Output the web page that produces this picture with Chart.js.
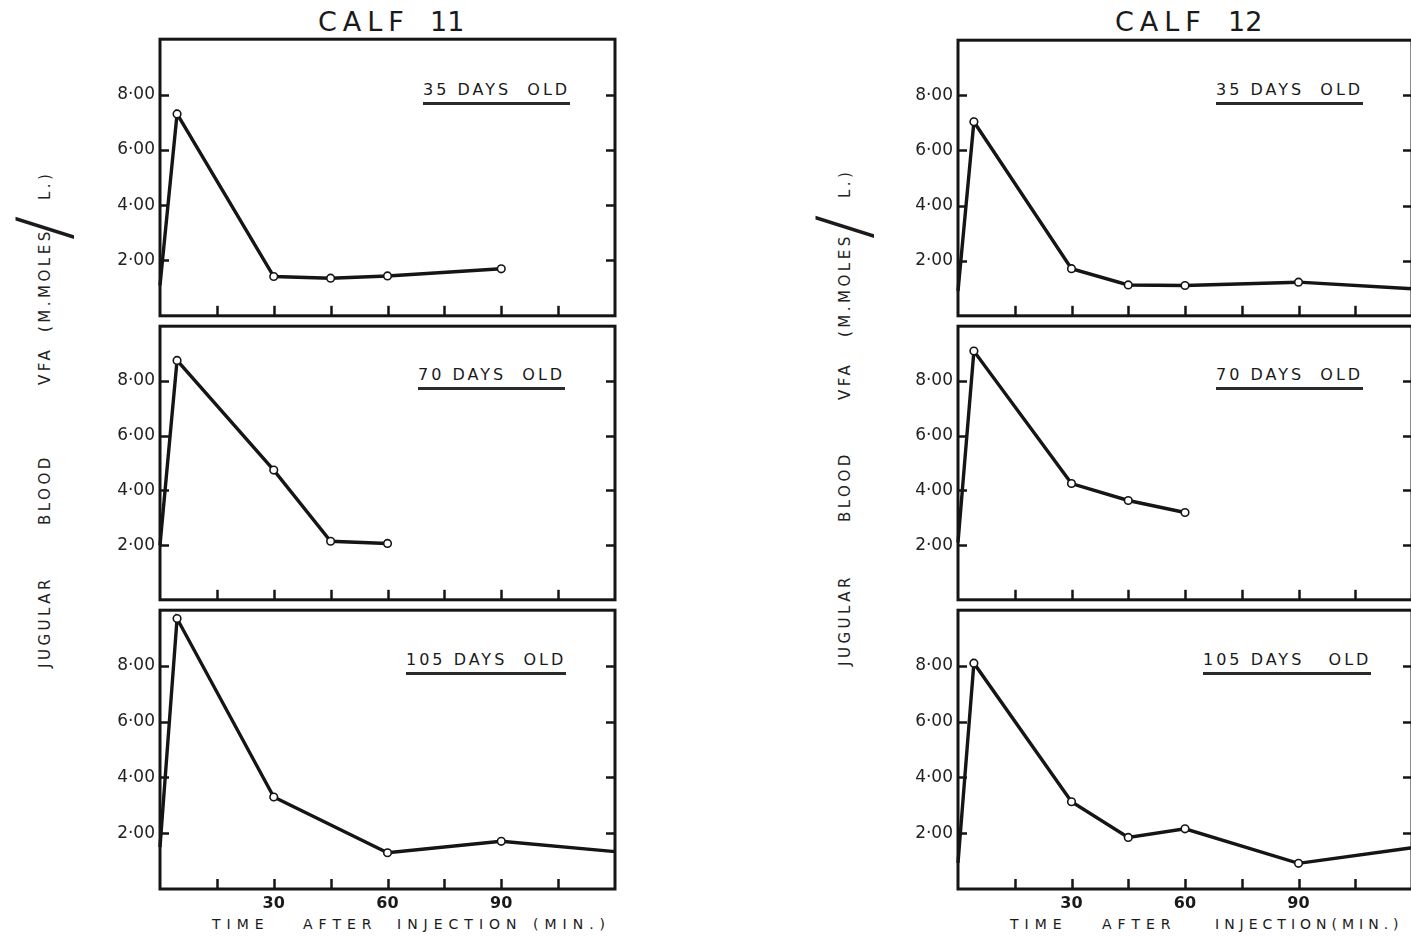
<!DOCTYPE html>
<html>
<head>
<meta charset="utf-8">
<script src="https://cdn.jsdelivr.net/npm/chart.js@4.4.0/dist/chart.umd.min.js"></script>
<style>
html,body{margin:0;padding:0;background:#fff;overflow:hidden;width:1411px;height:940px;}
body{position:relative;font-family:"DejaVu Sans",sans-serif;color:#1a1a1a;}
canvas{position:absolute;}
.t{position:absolute;white-space:pre;line-height:1;}
.title{font-size:27px;letter-spacing:6px;top:8px;}
.num{font-size:27px;letter-spacing:0;top:8px;}
.age{font-size:16px;letter-spacing:3px;border-bottom:3px solid #2a2a2a;padding-bottom:4px;}
.xt{font-size:14px;letter-spacing:6px;top:917px;}
.ylab{position:absolute;transform:rotate(-90deg);transform-origin:0 0;width:520px;height:18px;font-size:15px;letter-spacing:3.5px;line-height:18px;color:#222;}
.ylab span{position:absolute;top:0;white-space:pre;}
.ylab span.sl{font-size:72px;line-height:72px;top:-30px;letter-spacing:0;color:#1a1a1a;font-weight:200;}
</style>
</head>
<body>
<div class="t title" style="left:318px">CALF</div>
<div class="t num" style="left:430px">11</div>
<div class="t title" style="left:1115px">CALF</div>
<div class="t num" style="left:1228px">12</div>

<div class="ylab" style="left:36px;top:668px">
  <span style="left:0px">JUGULAR</span>
  <span style="left:143px">BLOOD</span>
  <span style="left:283px">VFA</span>
  <span style="left:336px">(M.MOLES</span>
  <span class="sl" style="left:428px">/</span>
  <span style="left:468px">L.)</span>
</div>
<div class="ylab" style="left:836px;top:666px">
  <span style="left:0px">JUGULAR</span>
  <span style="left:144px">BLOOD</span>
  <span style="left:266px">VFA</span>
  <span style="left:329px">(M.MOLES</span>
  <span class="sl" style="left:427px">/</span>
  <span style="left:468px">L.)</span>
</div>

<div class="t age" style="left:423px;top:82px">35 DAYS  OLD</div>
<div class="t age" style="left:418px;top:367px">70 DAYS  OLD</div>
<div class="t age" style="left:406px;top:652px">105 DAYS  OLD</div>
<div class="t age" style="left:1216px;top:82px">35 DAYS  OLD</div>
<div class="t age" style="left:1216px;top:367px">70 DAYS  OLD</div>
<div class="t age" style="left:1203px;top:652px">105 DAYS   OLD</div>

<div class="t xt" style="left:212px">TIME</div>
<div class="t xt" style="left:303px">AFTER</div>
<div class="t xt" style="left:397px">INJECTION</div>
<div class="t xt" style="left:533px">(MIN.)</div>
<div class="t xt" style="left:1010px">TIME</div>
<div class="t xt" style="left:1102px">AFTER</div>
<div class="t xt" style="left:1215px;letter-spacing:5px">INJECTION(MIN.)</div>

<script>
// ---- data (minutes after injection, jugular blood VFA m.moles/L) ----
const calf11_35d_t = [0, 4.5, 30, 45, 60, 90];
const calf11_35d_v = [1.1, 7.3, 1.42, 1.36, 1.44, 1.7];
const calf11_70d_t = [0, 4.5, 30, 45, 60];
const calf11_70d_v = [2.0, 8.75, 4.74, 2.14, 2.06];
const calf11_105d_t = [0, 4.5, 30, 60, 90, 120];
const calf11_105d_v = [1.5, 9.7, 3.3, 1.3, 1.71, 1.34];
const calf12_35d_t = [0, 4.2, 30, 45, 60, 90, 120];
const calf12_35d_v = [0.9, 7.04, 1.71, 1.12, 1.1, 1.22, 0.98];
const calf12_70d_t = [0, 4.2, 30, 45, 60];
const calf12_70d_v = [2.1, 9.09, 4.25, 3.63, 3.19];
const calf12_105d_t = [0, 4.2, 30, 45, 60, 90, 120];
const calf12_105d_v = [0.94, 8.1, 3.13, 1.85, 2.16, 0.92, 1.48];

const xTickMinutes = [15, 30, 45, 60, 75, 90, 105];
const xTickLabels = [30, 60, 90];
const yTickValues = [2, 4, 6, 8];

const INK = '#151515';

const framePlugin = {
  id: 'frame',
  afterDatasetsDraw(chart) {
    const ctx = chart.ctx, a = chart.chartArea;
    const xs = chart.scales.x, ys = chart.scales.y;
    ctx.save();
    ctx.strokeStyle = INK;
    ctx.lineCap = 'butt';
    ctx.lineWidth = 2.5;
    xTickMinutes.forEach(m => {
      const px = Math.round(xs.getPixelForValue(m)) + 0.5;
      ctx.beginPath(); ctx.moveTo(px, a.bottom); ctx.lineTo(px, a.bottom - 10); ctx.stroke();
    });
    yTickValues.forEach(v => {
      const py = Math.round(ys.getPixelForValue(v)) + 0.5;
      ctx.beginPath(); ctx.moveTo(a.left, py); ctx.lineTo(a.left + 9, py); ctx.stroke();
      ctx.beginPath(); ctx.moveTo(a.right, py); ctx.lineTo(a.right - 9, py); ctx.stroke();
    });
    ctx.lineWidth = 3;
    ctx.strokeRect(a.left, a.top, a.right - a.left, a.bottom - a.top);
    ctx.restore();
  }
};

function makePanel(plotLeft, plotTop, plotRight, plotBottom, isBottom, times, values) {
  const yW = 100, padT = 10, padR = 10, padB = isBottom ? 30 : 10;
  const c = document.createElement('canvas');
  const w = yW + (plotRight - plotLeft) + padR;
  const h = padT + (plotBottom - plotTop) + padB;
  c.width = w; c.height = h;
  c.style.width = w + 'px'; c.style.height = h + 'px';
  c.style.left = (plotLeft - yW) + 'px';
  c.style.top = (plotTop - padT) + 'px';
  document.body.appendChild(c);
  const pts = times.map((t, i) => ({ x: t, y: values[i] }));
  new Chart(c, {
    type: 'line',
    data: { datasets: [{
      data: pts,
      borderColor: INK,
      borderWidth: 3.4,
      tension: 0,
      pointRadius: ctx => (ctx.raw && (ctx.raw.x === 0 || ctx.raw.x === 120)) ? 0 : 3.8,
      pointBackgroundColor: '#ffffff',
      pointBorderColor: INK,
      pointBorderWidth: 1.6,
      clip: 4
    }]},
    options: {
      responsive: false,
      devicePixelRatio: 1,
      animation: false,
      layout: { padding: { top: padT, right: padR, left: 0, bottom: 0 }, autoPadding: false },
      plugins: { legend: { display: false }, tooltip: { enabled: false } },
      scales: {
        x: {
          type: 'linear', min: 0, max: 120,
          afterFit: s => { s.height = padB; },
          grid: { display: false, drawTicks: false },
          border: { display: false },
          ticks: {
            display: isBottom, stepSize: 15, autoSkip: false, maxRotation: 0, padding: 5,
            color: '#1a1a1a',
            font: { family: 'DejaVu Sans', size: 16, weight: 'bold' },
            callback: v => xTickLabels.includes(v) ? String(v) : ''
          }
        },
        y: {
          min: 0, max: 10,
          afterFit: s => { s.width = yW; },
          grid: { display: false, drawTicks: false },
          border: { display: false },
          ticks: {
            stepSize: 2, padding: 5, color: '#222',
            font: { family: 'DejaVu Sans', size: 17 },
            callback: v => yTickValues.includes(v) ? (v + '\u00B700') : ''
          }
        }
      }
    },
    plugins: [framePlugin]
  });
}

// Calf 11 (left column)
makePanel(160, 34, 615, 321, false, calf11_35d_t, calf11_35d_v);
makePanel(160, 321, 615, 605, false, calf11_70d_t, calf11_70d_v);
makePanel(160, 605, 615, 889, true, calf11_105d_t, calf11_105d_v);
// Calf 12 (right column)
makePanel(958, 35, 1412, 321, false, calf12_35d_t, calf12_35d_v);
makePanel(958, 321, 1412, 605, false, calf12_70d_t, calf12_70d_v);
makePanel(958, 605, 1412, 889, true, calf12_105d_t, calf12_105d_v);
</script>
</body>
</html>
